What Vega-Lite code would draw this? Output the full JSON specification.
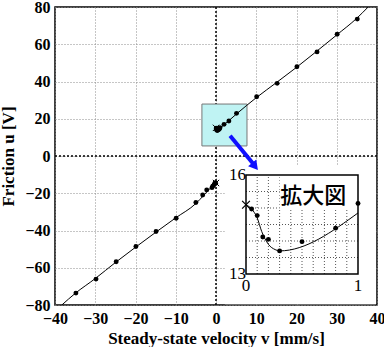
{
  "$schema": "https://vega.github.io/schema/vega-lite/v6.json",
  "width": 322,
  "height": 298,
  "autosize": "none",
  "padding": {"left": 55, "top": 7, "right": 7, "bottom": 42},
  "background": "white",
  "config": {
    "view": {"stroke": "black", "strokeWidth": 1.5},
    "axis": {
      "labelFont": "Liberation Serif",
      "labelFontWeight": "bold",
      "labelFontSize": 16,
      "labelColor": "black",
      "labelOverlap": false,
      "labelBound": false,
      "labelFlush": false,
      "titleFont": "Liberation Serif",
      "titleFontWeight": "bold",
      "titleFontSize": 17,
      "titleColor": "black",
      "domain": false,
      "ticks": false,
      "grid": true,
      "gridColor": "#8c8c8c",
      "gridDash": [1, 2],
      "gridWidth": 1,
      "labelPadding": 5
    },
    "axisX": {"tickCount": 8},
    "axisY": {"tickCount": 8}
  },
  "datasets": {
    "pts": [
      {"v": -34.8, "u": -73.6}, {"v": -29.8, "u": -66.1}, {"v": -24.8, "u": -56.8},
      {"v": -19.9, "u": -48.6}, {"v": -14.9, "u": -40.5}, {"v": -9.9, "u": -33.4},
      {"v": -5.0, "u": -25.0}, {"v": -3.3, "u": -20.9}, {"v": -2.3, "u": -18.2},
      {"v": -1.0, "u": -17.0}, {"v": -0.8, "u": -16.2}, {"v": -0.5, "u": -15.5},
      {"v": -0.3, "u": -14.8}, {"v": -0.2, "u": -14.3}, {"v": -0.1, "u": -14.6},
      {"v": 0.05, "u": 14.97}, {"v": 0.1, "u": 14.77}, {"v": 0.15, "u": 14.12},
      {"v": 0.2, "u": 14.05}, {"v": 0.3, "u": 13.7}, {"v": 0.5, "u": 13.98},
      {"v": 0.8, "u": 14.39}, {"v": 1.0, "u": 15.14}, {"v": 2.0, "u": 17.0},
      {"v": 3.2, "u": 18.8}, {"v": 5.1, "u": 22.9}, {"v": 10.1, "u": 31.8},
      {"v": 15.2, "u": 39.0}, {"v": 20.1, "u": 47.9}, {"v": 25.1, "u": 55.9},
      {"v": 30.1, "u": 65.4}, {"v": 35.1, "u": 73.5}
    ],
    "curve": [
      {"s": "neg", "v": -38.3, "u": -80}, {"s": "neg", "v": -35, "u": -73.8},
      {"s": "neg", "v": -30, "u": -65.8}, {"s": "neg", "v": -25, "u": -57.2},
      {"s": "neg", "v": -20, "u": -49.0}, {"s": "neg", "v": -15, "u": -41.0},
      {"s": "neg", "v": -10, "u": -33.2}, {"s": "neg", "v": -5, "u": -25.5},
      {"s": "neg", "v": -3, "u": -21.0}, {"s": "neg", "v": -2, "u": -18.6},
      {"s": "neg", "v": -1, "u": -16.4}, {"s": "neg", "v": -0.5, "u": -15.4},
      {"s": "neg", "v": -0.2, "u": -14.6}, {"s": "neg", "v": 0, "u": -14.5},
      {"s": "pos", "v": 0, "u": 15.1}, {"s": "pos", "v": 0.05, "u": 14.97},
      {"s": "pos", "v": 0.1, "u": 14.7}, {"s": "pos", "v": 0.14, "u": 14.29},
      {"s": "pos", "v": 0.2, "u": 13.9}, {"s": "pos", "v": 0.26, "u": 13.74},
      {"s": "pos", "v": 0.3, "u": 13.7}, {"s": "pos", "v": 1.0, "u": 14.85},
      {"s": "pos", "v": 2, "u": 16.8}, {"s": "pos", "v": 3, "u": 18.6},
      {"s": "pos", "v": 5, "u": 22.4}, {"s": "pos", "v": 10, "u": 31.3},
      {"s": "pos", "v": 15, "u": 39.4}, {"s": "pos", "v": 20, "u": 47.6},
      {"s": "pos", "v": 25, "u": 56.2}, {"s": "pos", "v": 30, "u": 65.0},
      {"s": "pos", "v": 35, "u": 74.0}, {"s": "pos", "v": 37.8, "u": 80}
    ],
    "cross": [{"v": 0, "u": 15.1}, {"v": 0, "u": -14.5}],
    "gx": [{"g": 0.1}, {"g": 0.2}, {"g": 0.3}, {"g": 0.4}, {"g": 0.5}, {"g": 0.6}, {"g": 0.7}, {"g": 0.8}, {"g": 0.9}],
    "gy": [{"g": 13.5}, {"g": 14.0}, {"g": 14.5}, {"g": 15.0}, {"g": 15.5}],
    "insetLabels": [
      {"t": "16", "v": 0, "u": 16, "pos": "left"},
      {"t": "13", "v": 0, "u": 13, "pos": "left"},
      {"t": "0", "v": 0, "u": 13, "pos": "below"},
      {"t": "1", "v": 1, "u": 13, "pos": "below"}
    ]
  },
  "layer": [
    {
      "layer": [
        {
          "data": {"values": [{}]},
          "mark": {"type": "rect", "fill": "white", "stroke": null},
          "encoding": {
            "x": {"datum": 2.2, "type": "quantitative", "scale": {"domain": [-40, 40], "nice": false, "zero": false},
              "axis": {"title": "Steady-state velocity  v  [mm/s]", "titlePadding": 4}},
            "x2": {"datum": 39.7},
            "y": {"datum": -79.6, "type": "quantitative", "scale": {"domain": [-80, 80], "nice": false, "zero": false},
              "axis": {"title": "Friction  u  [V]", "titlePadding": 7}},
            "y2": {"datum": -4.8}
          }
        },
        {
          "data": {"values": [{}]},
          "mark": {"type": "rule", "color": "black", "strokeDash": [2, 2], "strokeWidth": 1.5},
          "encoding": {"x": {"datum": 0, "type": "quantitative"}}
        },
        {
          "data": {"values": [{}]},
          "mark": {"type": "rule", "color": "black", "strokeDash": [2, 2], "strokeWidth": 1.5},
          "encoding": {"y": {"datum": 0, "type": "quantitative"}}
        },
        {
          "data": {"values": [{}]},
          "mark": {"type": "rect", "fill": "#bff3f3", "stroke": "#777777", "strokeWidth": 1},
          "encoding": {
            "x": {"datum": -3.5, "type": "quantitative"},
            "x2": {"datum": 7.7},
            "y": {"datum": 5.4, "type": "quantitative"},
            "y2": {"datum": 27.9}
          }
        },
        {
          "data": {"name": "curve"},
          "mark": {"type": "line", "color": "black", "strokeWidth": 1, "interpolate": "monotone"},
          "encoding": {
            "x": {"field": "v", "type": "quantitative"},
            "y": {"field": "u", "type": "quantitative"},
            "detail": {"field": "s"},
            "order": {"field": "v", "type": "quantitative"}
          }
        },
        {
          "data": {"name": "pts"},
          "mark": {"type": "point", "filled": true, "color": "black", "size": 24, "opacity": 1},
          "encoding": {
            "x": {"field": "v", "type": "quantitative"},
            "y": {"field": "u", "type": "quantitative"}
          }
        },
        {
          "data": {"name": "cross"},
          "mark": {"type": "point", "shape": "M-1,-1L1,1M-1,1L1,-1", "filled": false, "color": "black", "size": 40, "strokeWidth": 1, "opacity": 1},
          "encoding": {
            "x": {"field": "v", "type": "quantitative"},
            "y": {"field": "u", "type": "quantitative"}
          }
        },
        {
          "data": {"values": [{}]},
          "mark": {"type": "rule", "color": "#1010ff", "strokeWidth": 4},
          "encoding": {
            "x": {"datum": 3.5, "type": "quantitative"},
            "y": {"datum": 10.9, "type": "quantitative"},
            "x2": {"datum": 9.4},
            "y2": {"datum": -4.6}
          }
        },
        {
          "data": {"values": [{}]},
          "mark": {"type": "point", "shape": "triangle-right", "filled": true, "color": "#1010ff", "size": 110, "angle": 51, "opacity": 1},
          "encoding": {
            "x": {"datum": 9.7, "type": "quantitative"},
            "y": {"datum": -5.6, "type": "quantitative"}
          }
        }
      ]
    },
    {
      "layer": [
        {
          "data": {"values": [{}]},
          "mark": {"type": "rect", "fill": "white"},
          "encoding": {
            "x": {"datum": 0, "type": "quantitative", "scale": {"domain": [0, 1], "range": [191, 303], "nice": false, "zero": false}, "axis": null},
            "x2": {"datum": 1},
            "y": {"datum": 13, "type": "quantitative", "scale": {"domain": [13, 16], "range": [267, 168], "nice": false, "zero": false}, "axis": null},
            "y2": {"datum": 16}
          }
        },
        {
          "data": {"name": "gx"},
          "mark": {"type": "rule", "color": "#555555", "strokeDash": [1, 2], "strokeWidth": 1},
          "encoding": {
            "x": {"field": "g", "type": "quantitative"},
            "y": {"datum": 13, "type": "quantitative"},
            "y2": {"datum": 16}
          }
        },
        {
          "data": {"name": "gy"},
          "mark": {"type": "rule", "color": "#555555", "strokeDash": [1, 2], "strokeWidth": 1},
          "encoding": {
            "y": {"field": "g", "type": "quantitative"},
            "x": {"datum": 0, "type": "quantitative"},
            "x2": {"datum": 1}
          }
        },
        {
          "data": {"values": [{}]},
          "mark": {"type": "rect", "fill": "white"},
          "encoding": {
            "x": {"datum": 0.3, "type": "quantitative"},
            "x2": {"datum": 1},
            "y": {"datum": 14.97, "type": "quantitative"},
            "y2": {"datum": 16}
          }
        },
        {
          "data": {"name": "curve"},
          "transform": [{"filter": "datum.s == 'pos' && datum.v <= 1"}],
          "mark": {"type": "line", "color": "black", "strokeWidth": 1, "interpolate": "monotone"},
          "encoding": {
            "x": {"field": "v", "type": "quantitative"},
            "y": {"field": "u", "type": "quantitative"},
            "order": {"field": "v", "type": "quantitative"}
          }
        },
        {
          "data": {"name": "pts"},
          "transform": [{"filter": "datum.v >= 0 && datum.v <= 1"}],
          "mark": {"type": "point", "filled": true, "color": "black", "size": 24, "opacity": 1},
          "encoding": {
            "x": {"field": "v", "type": "quantitative"},
            "y": {"field": "u", "type": "quantitative"}
          }
        },
        {
          "data": {"name": "cross"},
          "transform": [{"filter": "datum.u > 0"}],
          "mark": {"type": "point", "shape": "M-1,-1L1,1M-1,1L1,-1", "filled": false, "color": "black", "size": 60, "strokeWidth": 1.2, "opacity": 1},
          "encoding": {
            "x": {"field": "v", "type": "quantitative"},
            "y": {"field": "u", "type": "quantitative"}
          }
        },
        {
          "data": {"values": [{}]},
          "mark": {"type": "rect", "fill": null, "stroke": "black", "strokeWidth": 1.5},
          "encoding": {
            "x": {"datum": 0, "type": "quantitative"},
            "x2": {"datum": 1},
            "y": {"datum": 13, "type": "quantitative"},
            "y2": {"datum": 16}
          }
        },
        {
          "data": {"values": [{"t": "拡大図"}]},
          "mark": {"type": "text", "font": "Noto Sans CJK JP", "fontSize": 22, "fontWeight": 500, "color": "black", "align": "center", "baseline": "middle"},
          "encoding": {
            "x": {"datum": 0.6, "type": "quantitative"},
            "y": {"datum": 15.36, "type": "quantitative"},
            "text": {"field": "t"}
          }
        },
        {
          "data": {"name": "insetLabels"},
          "transform": [{"filter": "datum.pos == 'left'"}],
          "mark": {"type": "text", "font": "Liberation Serif", "fontSize": 17, "color": "black", "align": "right", "baseline": "middle", "dx": 0},
          "encoding": {
            "x": {"field": "v", "type": "quantitative"},
            "y": {"field": "u", "type": "quantitative"},
            "text": {"field": "t"}
          }
        },
        {
          "data": {"name": "insetLabels"},
          "transform": [{"filter": "datum.pos == 'below'"}],
          "mark": {"type": "text", "font": "Liberation Serif", "fontSize": 17, "color": "black", "align": "center", "baseline": "middle", "dy": 12},
          "encoding": {
            "x": {"field": "v", "type": "quantitative"},
            "y": {"field": "u", "type": "quantitative"},
            "text": {"field": "t"}
          }
        }
      ]
    }
  ],
  "resolve": {
    "scale": {"x": "independent", "y": "independent"},
    "axis": {"x": "independent", "y": "independent"}
  }
}
